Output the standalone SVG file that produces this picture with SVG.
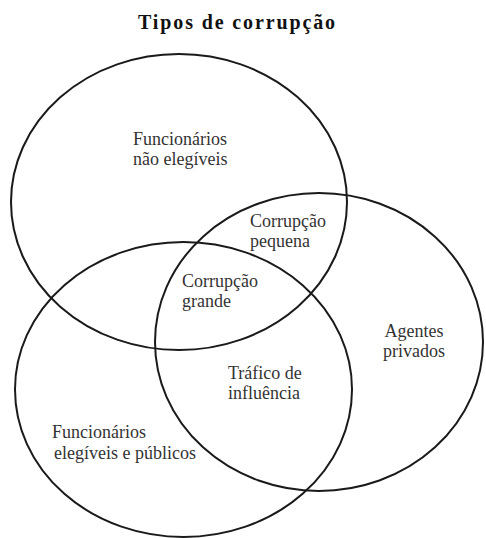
<svg xmlns="http://www.w3.org/2000/svg" width="486" height="538" viewBox="0 0 486 538">
<style>
.set{fill:none;stroke:#1a1a1a;stroke-width:2}
.lbl{font-family:"Liberation Serif","Times New Roman",serif;font-size:18px;fill:#333}
.title{font-family:"Liberation Serif","Times New Roman",serif;font-size:20px;font-weight:bold;fill:#111}
</style>
<rect width="486" height="538" fill="#fff"/>
<text class="title" x="138" y="29" textLength="197" lengthAdjust="spacing">Tipos de corrupção</text>
<g id="connectors"></g>
<g id="nao-elegiveis">
<ellipse class="set" cx="179" cy="202" rx="168" ry="148"/>
<text class="lbl" x="133" y="145">Funcionários</text>
<text class="lbl" x="133" y="165">não elegíveis</text>
</g>
<g id="agentes-privados">
<ellipse class="set" cx="319" cy="342" rx="164" ry="149"/>
<text class="lbl" x="414" y="337" text-anchor="middle">Agentes</text>
<text class="lbl" x="414" y="357" text-anchor="middle">privados</text>
</g>
<g id="elegiveis-publicos">
<ellipse class="set" cx="183.5" cy="389.5" rx="168.5" ry="147.5"/>
<text class="lbl" x="52" y="438">Funcionários</text>
<text class="lbl" x="54" y="459">elegíveis e públicos</text>
</g>
<g id="corrupcao-pequena">
<text class="lbl" x="250" y="227">Corrupção</text>
<text class="lbl" x="250" y="247">pequena</text>
</g>
<g id="corrupcao-grande">
<text class="lbl" x="182" y="287">Corrupção</text>
<text class="lbl" x="182" y="307">grande</text>
</g>
<g id="trafico-influencia">
<text class="lbl" x="228" y="379">Tráfico de</text>
<text class="lbl" x="228" y="399">influência</text>
</g>
</svg>
